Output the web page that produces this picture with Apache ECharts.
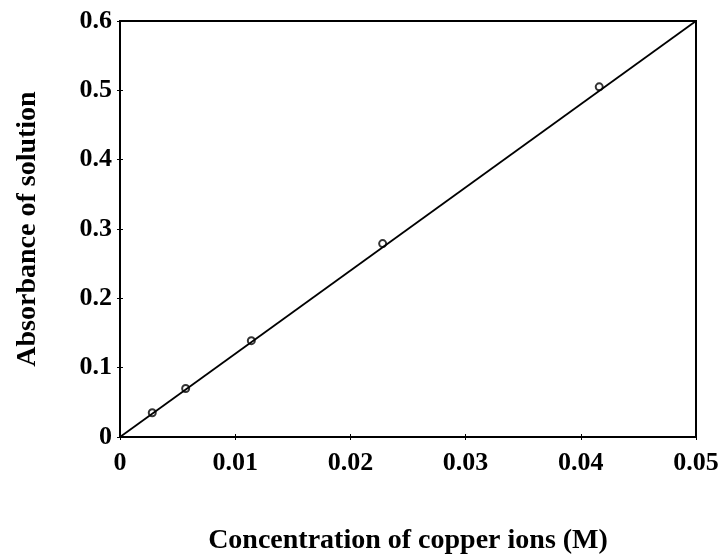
<!DOCTYPE html>
<html lang="en">
<head>
    <meta charset="UTF-8">
    <title>Absorbance</title>
    <style>
        * { margin: 0; padding: 0; }
        #chart { width: 723px; height: 558px; background: #fff; }
    </style>
</head>
<body>
    <div id="chart"></div>
    <script src="https://cdn.jsdelivr.net/npm/echarts@6/dist/echarts.min.js"></script>
    <script>
        // measured points
        var concentration = [0.0028, 0.0057, 0.0114, 0.0228, 0.0416];
        var absorbance = [0.035, 0.070, 0.139, 0.279, 0.505];
        // fitted line endpoints
        var fitX = [0, 0.05];
        var fitY = [0, 0.6];

        var font = 'Liberation Serif, Times New Roman, serif';
        var chart = echarts.init(document.getElementById('chart'));

        var points = concentration.map(function (c, i) { return [c, absorbance[i]]; });
        var fit = fitX.map(function (x, i) { return [x, fitY[i]]; });

        var tick = { inside: true, length: 3, lineStyle: { color: '#000' } };
        var line = { lineStyle: { color: '#000', width: 2 } };

        var option = {
            animation: false,
            grid: {
                left: 120, right: 27, top: 21, bottom: 121,
                outerBoundsMode: 'none',
                containLabel: false,
                show: true, borderColor: '#000', borderWidth: 2
            },
            xAxis: [{
                type: 'value', min: 0, max: 0.05, interval: 0.01,
                name: 'Concentration of copper ions (M)',
                nameLocation: 'middle', nameGap: 90,
                nameTextStyle: { fontFamily: font, fontWeight: 'bold', fontSize: 28, color: '#000' },
                axisLine: line,
                axisTick: tick,
                splitLine: { show: false },
                axisLabel: {
                    fontFamily: font, fontWeight: 'bold', fontSize: 26, color: '#000', margin: 13,
                    formatter: function (v) { return v === 0 ? '0' : v.toFixed(2); }
                }
            }, {
                // mirrored ticks on top edge
                type: 'value', position: 'top', min: 0, max: 0.05, interval: 0.01,
                axisLine: line, axisTick: tick,
                axisLabel: { show: false }, splitLine: { show: false }
            }],
            yAxis: [{
                type: 'value', min: 0, max: 0.6, interval: 0.1,
                name: 'Absorbance of solution',
                nameLocation: 'middle', nameGap: 78,
                nameTextStyle: { fontFamily: font, fontWeight: 'bold', fontSize: 28, color: '#000' },
                axisLine: line,
                axisTick: tick,
                splitLine: { show: false },
                axisLabel: {
                    fontFamily: font, fontWeight: 'bold', fontSize: 26, color: '#000', margin: 8,
                    formatter: function (v) { return v === 0 ? '0' : v.toFixed(1); }
                }
            }, {
                // mirrored ticks on right edge
                type: 'value', position: 'right', min: 0, max: 0.6, interval: 0.1,
                axisLine: line, axisTick: tick,
                axisLabel: { show: false }, splitLine: { show: false }
            }],
            series: [{
                type: 'line',
                data: fit,
                symbol: 'none',
                lineStyle: { color: '#000', width: 1.8 }
            }, {
                type: 'scatter',
                data: points,
                symbol: 'circle',
                symbolSize: 7,
                itemStyle: { color: '#fff', borderColor: '#000', borderWidth: 2 }
            }]
        };
        chart.setOption(option);
    </script>
</body>
</html>
